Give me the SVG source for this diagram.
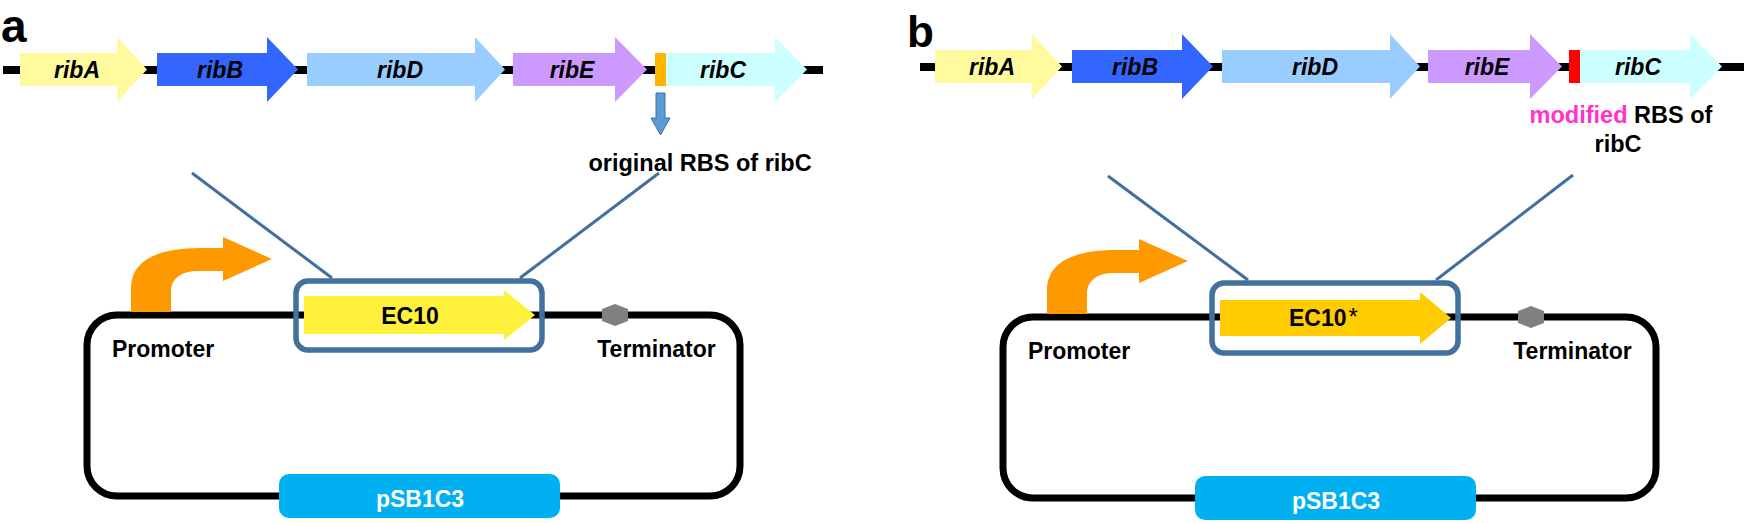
<svg xmlns="http://www.w3.org/2000/svg" width="1744" height="523" viewBox="0 0 1744 523">
<style>
.lbl{font-family:"Liberation Sans",Arial,sans-serif;font-weight:bold;fill:#000}
.gene{font-family:"Liberation Sans",Arial,sans-serif;font-weight:bold;font-style:italic;font-size:23px;text-anchor:middle;fill:#000}
.t23{font-family:"Liberation Sans",Arial,sans-serif;font-weight:bold;font-size:23px;fill:#000}
.dna{stroke:#000;stroke-width:8;fill:none}
.loop{stroke:#000;stroke-width:7;fill:none}
.conn{stroke:#41709C;stroke-width:3;fill:none}
.box{stroke:#41719C;stroke-width:5.5;fill:none}
.term{fill:#808080}
.prom{fill:#FF9900}
.bb{fill:#00B0F0}
</style>
<rect width="1744" height="523" fill="#fff"/>

<!-- Panel a -->
<text id="label-a" class="lbl" x="1" y="42" font-size="46">a</text>
<g id="a-operon">
  <line class="dna" x1="3" y1="70" x2="823" y2="70"/>
  <g id="a-ribA"><path d="M20,53 H117 V37 L147,69.5 L117,102 V86 H20 Z" fill="#FFFA9E"/><text class="gene" x="77" y="78">ribA</text></g>
  <g id="a-ribB"><path d="M157,53 H267 V37 L298,69.5 L267,102 V86 H157 Z" fill="#3366FF"/><text class="gene" x="220" y="78">ribB</text></g>
  <g id="a-ribD"><path d="M307,53 H475 V37 L505,69.5 L475,102 V86 H307 Z" fill="#99CCFF"/><text class="gene" x="400" y="78">ribD</text></g>
  <g id="a-ribE"><path d="M513,53 H615 V37 L647,69.5 L615,102 V86 H513 Z" fill="#CC99FF"/><text class="gene" x="572" y="78">ribE</text></g>
  <g id="a-rbs"><rect x="655" y="53" width="11" height="33" fill="#FFB400"/></g>
  <g id="a-ribC"><path d="M666,53 H775 V37 L807,69.5 L775,102 V86 H666 Z" fill="#CCFFFF"/><text class="gene" x="723" y="78">ribC</text></g>
  <g id="a-rbs-pointer"><path d="M656,93 H665 V118 H670 L660.5,135 L651,118 H656 Z" fill="#5B9BD5" stroke="#41719C" stroke-width="1"/></g>
  <text id="a-rbs-label" class="lbl" x="700" y="171" font-size="23.5" text-anchor="middle">original RBS of ribC</text>
</g>
<g id="a-connectors">
  <line class="conn" x1="192" y1="173" x2="332" y2="278"/>
  <line class="conn" x1="659" y1="173" x2="520" y2="278"/>
</g>
<g id="a-plasmid">
  <rect class="loop" x="87" y="315" width="653" height="181" rx="30"/>
  <g id="a-promoter">
    <path class="prom" d="M131,312 L131,288 C131,262 155,248 200,248 L223,248 L223,237 L272,259 L223,281 L223,271 L198,271 C182,271 171,278 171,292 L171,312 Z"/>
    <text class="t23" x="112" y="357">Promoter</text>
  </g>
  <g id="a-ec10">
    <path d="M304,296 H504 V290 L535,315 L504,340 V334 H304 Z" fill="#FFF03C"/>
    <text class="t23" x="410" y="324" text-anchor="middle">EC10</text>
    <rect class="box" x="296" y="281" width="246" height="69" rx="12"/>
  </g>
  <g id="a-terminator">
    <polygon class="term" points="615,304 628,309 628,321 615,326 602,321 602,309"/>
    <text class="t23" x="656.5" y="357" text-anchor="middle">Terminator</text>
  </g>
  <g id="a-backbone">
    <rect class="bb" x="279" y="474" width="281" height="44" rx="10"/>
    <text class="t23" x="420" y="507" text-anchor="middle" style="fill:#fff">pSB1C3</text>
  </g>
</g>

<!-- Panel b -->
<text id="label-b" class="lbl" x="907" y="47" font-size="44">b</text>
<g id="b-operon" transform="translate(915,-3)">
  <line class="dna" x1="5" y1="70" x2="829" y2="70"/>
  <g id="b-ribA"><path d="M20,53 H117 V37 L147,69.5 L117,102 V86 H20 Z" fill="#FFFA9E"/><text class="gene" x="77" y="78">ribA</text></g>
  <g id="b-ribB"><path d="M157,53 H267 V37 L298,69.5 L267,102 V86 H157 Z" fill="#3366FF"/><text class="gene" x="220" y="78">ribB</text></g>
  <g id="b-ribD"><path d="M307,53 H475 V37 L505,69.5 L475,102 V86 H307 Z" fill="#99CCFF"/><text class="gene" x="400" y="78">ribD</text></g>
  <g id="b-ribE"><path d="M513,53 H615 V37 L647,69.5 L615,102 V86 H513 Z" fill="#CC99FF"/><text class="gene" x="572" y="78">ribE</text></g>
  <g id="b-ribC"><path d="M665,53 H775 V37 L807,69.5 L775,102 V86 H665 Z" fill="#CCFFFF"/><text class="gene" x="723" y="78">ribC</text></g>
  <g id="b-rbs"><rect x="654" y="53" width="11" height="33" fill="#FF0000"/></g>
</g>
<g id="b-rbs-label">
  <text class="lbl" x="1621" y="123" font-size="23.5" text-anchor="middle"><tspan style="fill:#FF33CC">modified</tspan> RBS of</text>
  <text class="lbl" x="1618" y="152" font-size="23.5" text-anchor="middle">ribC</text>
</g>
<g id="b-connectors" transform="translate(916,2)">
  <line class="conn" x1="192" y1="174" x2="332" y2="278"/>
  <line class="conn" x1="657" y1="173" x2="520" y2="278"/>
</g>
<g id="b-plasmid" transform="translate(916,2)">
  <rect class="loop" x="87" y="315" width="653" height="181" rx="30"/>
  <g id="b-promoter">
    <path class="prom" d="M131,312 L131,288 C131,262 155,248 200,248 L223,248 L223,237 L272,259 L223,281 L223,271 L198,271 C182,271 171,278 171,292 L171,312 Z"/>
    <text class="t23" x="112" y="357">Promoter</text>
  </g>
  <g id="b-ec10">
    <path d="M304,298 H504 V290 L535,316 L504,342 V334 H304 Z" fill="#FFCC00"/>
    <text class="t23" x="373" y="324">EC10<tspan font-weight="normal" font-size="24" dx="2" dy="-1">*</tspan></text>
    <rect class="box" x="296" y="281" width="246" height="70" rx="12"/>
  </g>
  <g id="b-terminator">
    <polygon class="term" points="615,304 628,309 628,321 615,326 602,321 602,309"/>
    <text class="t23" x="656.5" y="357" text-anchor="middle">Terminator</text>
  </g>
  <g id="b-backbone">
    <rect class="bb" x="279" y="474" width="281" height="44" rx="10"/>
    <text class="t23" x="420" y="507" text-anchor="middle" style="fill:#fff">pSB1C3</text>
  </g>
</g>
</svg>
